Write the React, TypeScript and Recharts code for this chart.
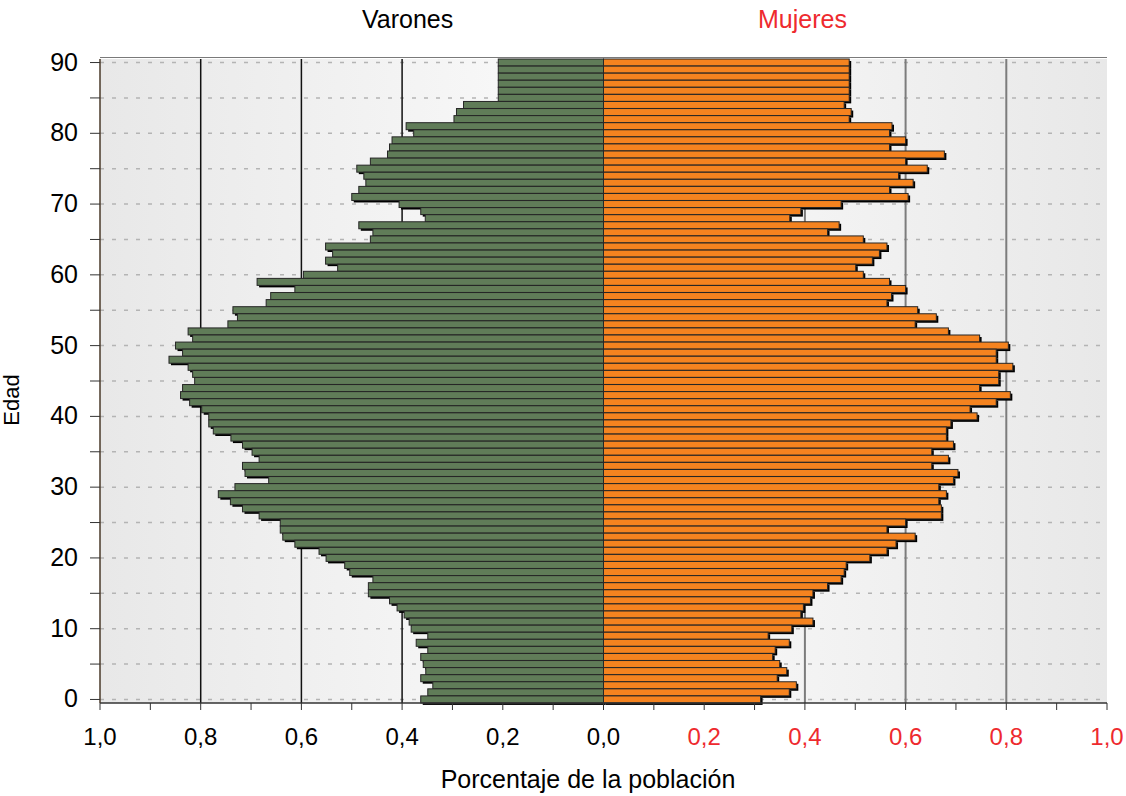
import { BarChart, Bar, XAxis, YAxis, CartesianGrid } from 'recharts'

// edades de 90 a 0 (de arriba abajo)
const ages = Array.from({ length: 91 }, (_, i) => 90 - i)

// % de la población, misma orden que ages
const varones = [
  0.209, 0.209, 0.209, 0.209, 0.209, 0.209, 0.278, 0.292, 0.297, 0.392,
  0.377, 0.42, 0.425, 0.429, 0.463, 0.49, 0.476, 0.472, 0.486, 0.5,
  0.406, 0.363, 0.354, 0.486, 0.458, 0.463, 0.552, 0.538, 0.552, 0.528,
  0.596, 0.688, 0.613, 0.661, 0.67, 0.736, 0.727, 0.746, 0.825, 0.816,
  0.85, 0.836, 0.863, 0.825, 0.816, 0.812, 0.836, 0.84, 0.822, 0.798,
  0.784, 0.784, 0.775, 0.74, 0.717, 0.698, 0.684, 0.717, 0.712, 0.665,
  0.732, 0.765, 0.741, 0.717, 0.684, 0.642, 0.642, 0.637, 0.613, 0.565,
  0.551, 0.514, 0.504, 0.458, 0.467, 0.467, 0.425, 0.41, 0.396, 0.386,
  0.382, 0.349, 0.372, 0.349, 0.363, 0.358, 0.353, 0.363, 0.339, 0.349,
  0.363,
]

const mujeres = [
  0.488, 0.488, 0.488, 0.488, 0.488, 0.488, 0.478, 0.492, 0.488, 0.573,
  0.568, 0.6, 0.568, 0.677, 0.6, 0.643, 0.586, 0.615, 0.568, 0.605,
  0.472, 0.392, 0.37, 0.468, 0.445, 0.516, 0.563, 0.548, 0.534, 0.501,
  0.516, 0.568, 0.6, 0.572, 0.563, 0.624, 0.661, 0.619, 0.685, 0.747,
  0.804, 0.78, 0.78, 0.813, 0.785, 0.785, 0.747, 0.808, 0.78, 0.728,
  0.742, 0.69, 0.681, 0.681, 0.695, 0.652, 0.685, 0.652, 0.704, 0.695,
  0.666, 0.681, 0.666, 0.671, 0.671, 0.6, 0.563, 0.619, 0.581, 0.563,
  0.529, 0.482, 0.478, 0.472, 0.445, 0.416, 0.411, 0.397, 0.392, 0.416,
  0.374, 0.327, 0.369, 0.341, 0.336, 0.35, 0.364, 0.345, 0.383, 0.369,
  0.312,
]

const xTicks = [-1, -0.9, -0.8, -0.7, -0.6, -0.5, -0.4, -0.3, -0.2, -0.1, 0, 0.1, 0.2, 0.3, 0.4, 0.5, 0.6, 0.7, 0.8, 0.9, 1]
const leftGrid = [-0.8, -0.6, -0.4, -0.2]
const rightGrid = [0.2, 0.4, 0.6, 0.8]

const data = ages.map((age, i) => ({ age, varones: -varones[i], mujeres: mujeres[i] }))

const RED = '#ee2a2e'
const FONT = 'Arial, "Liberation Sans", sans-serif'

// eslint-disable-next-line @typescript-eslint/no-explicit-any
function ShadowBar(props: any) {
  const { x, y, width, height, fill } = props
  if (width == null || height == null) return null
  const x0 = Math.min(x, x + width)
  const w = Math.abs(width)
  return (
    <g>
      <rect x={x0 + 2} y={y + 2} width={w} height={height} fill="#000" />
      <rect x={x0} y={y} width={w} height={height} fill={fill} stroke="#262626" strokeWidth={1} />
    </g>
  )
}

// eslint-disable-next-line @typescript-eslint/no-explicit-any
function XTick({ x, y, payload }: any) {
  const v = payload.value
  const tenth = Math.round(v * 10)
  if (tenth % 2 !== 0) return null
  const label = Math.abs(v).toFixed(1).replace('.', ',')
  return (
    <text x={x} y={y + 33} textAnchor="middle" fontSize={24} fontFamily={FONT} fill={v > 0 ? RED : '#000'}>
      {label}
    </text>
  )
}

// eslint-disable-next-line @typescript-eslint/no-explicit-any
function YTick({ x, y, payload }: any) {
  if (payload.value % 10 !== 0) return null
  return (
    <text x={x} y={y + 8} textAnchor="end" fontSize={25} fontFamily={FONT} fill="#000">
      {payload.value}
    </text>
  )
}

export default function App() {
  return (
    <div style={{ position: 'absolute', left: 0, top: 0, width: 1126, height: 796, background: '#fff', fontFamily: FONT }}>
      <div style={{ position: 'absolute', left: 362, top: 5, fontSize: 25, color: '#000' }}>Varones</div>
      <div style={{ position: 'absolute', left: 758, top: 5, fontSize: 25, color: RED }}>Mujeres</div>
      <div style={{ position: 'absolute', left: 0, width: 1126, top: 765, textAlign: 'center', paddingLeft: 50, boxSizing: 'border-box', fontSize: 25, color: '#000' }}>
        Porcentaje de la población
      </div>
      <div
        style={{
          position: 'absolute',
          left: 12,
          top: 400,
          transform: 'translate(-50%, -50%) rotate(-90deg)',
          fontSize: 22,
          color: '#000',
        }}
      >
        Edad
      </div>
      <div style={{ position: 'absolute', left: 100, top: 57, width: 1007, height: 1, background: '#7a7a7a' }} />
      <BarChart
        width={1126}
        height={796}
        data={data}
        layout="vertical"
        stackOffset="sign"
        barCategoryGap={0}
        margin={{ top: 59, right: 19, bottom: 43, left: 40 }}
      >
        <defs>
          <linearGradient id="plotBg" x1="0" y1="0" x2="1" y2="0">
            <stop offset="0%" stopColor="#e8e8e8" />
            <stop offset="50%" stopColor="#fbfbfb" />
            <stop offset="100%" stopColor="#e8e8e8" />
          </linearGradient>
        </defs>
        <CartesianGrid
          fill="url(#plotBg)"
          vertical={false}
          horizontalValues={ages}
          stroke="#b4b4b4"
          strokeWidth={1.5}
          strokeDasharray="4 8"
        />
        <CartesianGrid horizontal={false} verticalValues={leftGrid} stroke="#111" strokeWidth={1.5} />
        <CartesianGrid horizontal={false} verticalValues={rightGrid} stroke="#7c7c7c" strokeWidth={2} />
        <XAxis
          type="number"
          domain={[-1, 1]}
          ticks={xTicks}
          interval={0}
          tick={<XTick />}
          tickSize={7}
          tickLine={{ stroke: '#333' }}
          axisLine={{ stroke: '#333', strokeWidth: 1.5 }}
          height={50}
        />
        <YAxis
          type="category"
          dataKey="age"
          interval={4}
          tick={<YTick />}
          tickSize={10}
          tickMargin={12}
          tickLine={{ stroke: '#333' }}
          axisLine={{ stroke: '#4a3a2a', strokeWidth: 1.5 }}
          width={60}
        />
        <Bar dataKey="varones" stackId="p" fill="#607c58" shape={<ShadowBar />} isAnimationActive={false} />
        <Bar dataKey="mujeres" stackId="p" fill="#f5831f" shape={<ShadowBar />} isAnimationActive={false} />
      </BarChart>
    </div>
  )
}
